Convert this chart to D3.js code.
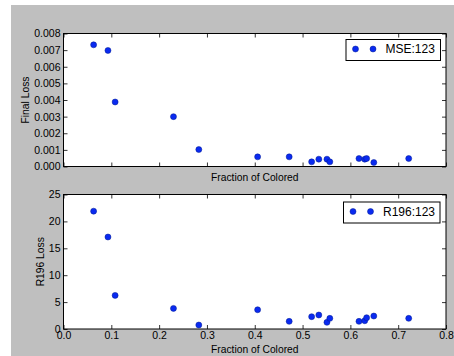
<!DOCTYPE html>
<html>
<head>
<meta charset="utf-8">
<script src="https://cdn.jsdelivr.net/npm/d3@7"></script>
<style>
  body { margin: 0; background: #fff; }
  text { font-family: "Liberation Sans", Arial, Helvetica, sans-serif; fill: #000; }
</style>
</head>
<body>
<div id="chart"></div>
<script>
// data
const fractions = [0.063, 0.093, 0.108, 0.230, 0.283, 0.406, 0.472, 0.519, 0.534, 0.551, 0.557, 0.618, 0.630, 0.634, 0.649, 0.722];
const mseLoss = [0.00732, 0.00698, 0.00388, 0.0030, 0.00102, 0.00058, 0.00058, 0.00028, 0.00044, 0.00044, 0.00028, 0.00048, 0.00044, 0.00048, 0.00024, 0.00048];
const r196Loss = [21.9, 17.1, 6.25, 3.83, 0.74, 3.58, 1.42, 2.29, 2.6, 1.24, 1.98, 1.42, 1.54, 2.1, 2.41, 1.98];
const xTicks = [0, 0.1, 0.2, 0.3, 0.4, 0.5, 0.6, 0.7, 0.8];
const mseTicks = [0, 0.001, 0.002, 0.003, 0.004, 0.005, 0.006, 0.007, 0.008];
const r196Ticks = [0, 5, 10, 15, 20, 25];

const WIDTH = 454, HEIGHT = 356;
const LEFT = 63.5, RIGHT = 446;
const DOT_FILL = "#0a2af0", DOT_STROKE = "#001a90";

const svg = d3.select("#chart").append("svg")
    .attr("width", WIDTH)
    .attr("height", HEIGHT);

// figure background
svg.append("rect")
    .attr("x", 11).attr("y", 5)
    .attr("width", WIDTH - 11).attr("height", HEIGHT - 5)
    .attr("fill", "#bfbfbf");

const xScale = d3.scaleLinear().domain([0, 0.8]).range([LEFT, RIGHT]);

function panel(opts) {
    const yScale = d3.scaleLinear().domain(opts.yDomain).range([opts.bottom, opts.top]);
    const g = svg.append("g");

    g.append("rect")
        .attr("x", LEFT).attr("y", opts.top)
        .attr("width", RIGHT - LEFT).attr("height", opts.bottom - opts.top)
        .attr("fill", "#fff");

    // inward ticks on all four sides
    const bottomAxis = d3.axisBottom(xScale).tickValues(xTicks).tickSize(-4).tickSizeOuter(0).tickPadding(3)
        .tickFormat(opts.xLabels ? d3.format(".1f") : "");
    g.append("g").attr("transform", "translate(0," + opts.bottom + ")").call(bottomAxis);
    g.append("g").attr("transform", "translate(0," + opts.top + ")")
        .call(d3.axisTop(xScale).tickValues(xTicks).tickSize(-4).tickSizeOuter(0).tickFormat(""));
    g.append("g").attr("transform", "translate(" + LEFT + ",0)")
        .call(d3.axisLeft(yScale).tickValues(opts.yTicks).tickSize(-4).tickSizeOuter(0).tickPadding(3).tickFormat(opts.yFormat));
    g.append("g").attr("transform", "translate(" + RIGHT + ",0)")
        .call(d3.axisRight(yScale).tickValues(opts.yTicks).tickSize(-4).tickSizeOuter(0).tickFormat(""));

    g.selectAll(".domain").remove();
    g.selectAll(".tick line").attr("stroke", "#000").attr("stroke-width", 0.8);
    g.selectAll(".tick text").style("font-size", "10.5px").attr("fill", "#000");

    g.append("rect")
        .attr("x", LEFT).attr("y", opts.top)
        .attr("width", RIGHT - LEFT).attr("height", opts.bottom - opts.top)
        .attr("fill", "none").attr("stroke", "#000").attr("stroke-width", 1);

    g.selectAll("circle.pt")
        .data(opts.values.map((v, i) => [fractions[i], v]))
        .enter().append("circle")
        .attr("class", "pt")
        .attr("cx", d => xScale(d[0]))
        .attr("cy", d => yScale(d[1]))
        .attr("r", 3)
        .attr("fill", DOT_FILL)
        .attr("stroke", DOT_STROKE)
        .attr("stroke-width", 0.5);

    // axis labels
    g.append("text")
        .attr("x", (LEFT + RIGHT) / 2)
        .attr("y", opts.xLabelY)
        .attr("text-anchor", "middle")
        .style("font-size", "10.3px")
        .text("Fraction of Colored");
    g.append("text")
        .attr("transform", "translate(" + opts.yLabelX + "," + ((opts.top + opts.bottom) / 2) + ") rotate(-90)")
        .attr("text-anchor", "middle")
        .attr("dy", "0.35em")
        .style("font-size", "10.3px")
        .text(opts.yLabel);

    // legend
    const lg = g.append("g").attr("transform", "translate(" + opts.legendX + "," + opts.legendY + ")");
    lg.append("rect")
        .attr("x", 0.5).attr("y", 0.5)
        .attr("width", opts.legendW).attr("height", 21)
        .attr("fill", "#fff").attr("stroke", "#000").attr("stroke-width", 1);
    lg.selectAll("circle")
        .data([10, 27.5])
        .enter().append("circle")
        .attr("cx", d => d).attr("cy", 10)
        .attr("r", 3)
        .attr("fill", DOT_FILL).attr("stroke", DOT_STROKE).attr("stroke-width", 0.5);
    lg.append("text")
        .attr("x", 40).attr("y", 10)
        .attr("dy", "0.36em")
        .style("font-size", "12px")
        .text(opts.legendText);
}

panel({
    top: 33.5, bottom: 166.5,
    yDomain: [0, 0.008], yTicks: mseTicks, yFormat: d3.format(".3f"),
    values: mseLoss, xLabels: false, xLabelY: 180.5,
    yLabel: "Final Loss", yLabelX: 25,
    legendX: 345.5, legendY: 39, legendW: 94.5, legendText: "MSE:123"
});

panel({
    top: 194.5, bottom: 329,
    yDomain: [0, 25], yTicks: r196Ticks, yFormat: d3.format("d"),
    values: r196Loss, xLabels: true, xLabelY: 353,
    yLabel: "R196 Loss", yLabelX: 40,
    legendX: 343, legendY: 201.5, legendW: 96.5, legendText: "R196:123"
});
</script>
</body>
</html>
